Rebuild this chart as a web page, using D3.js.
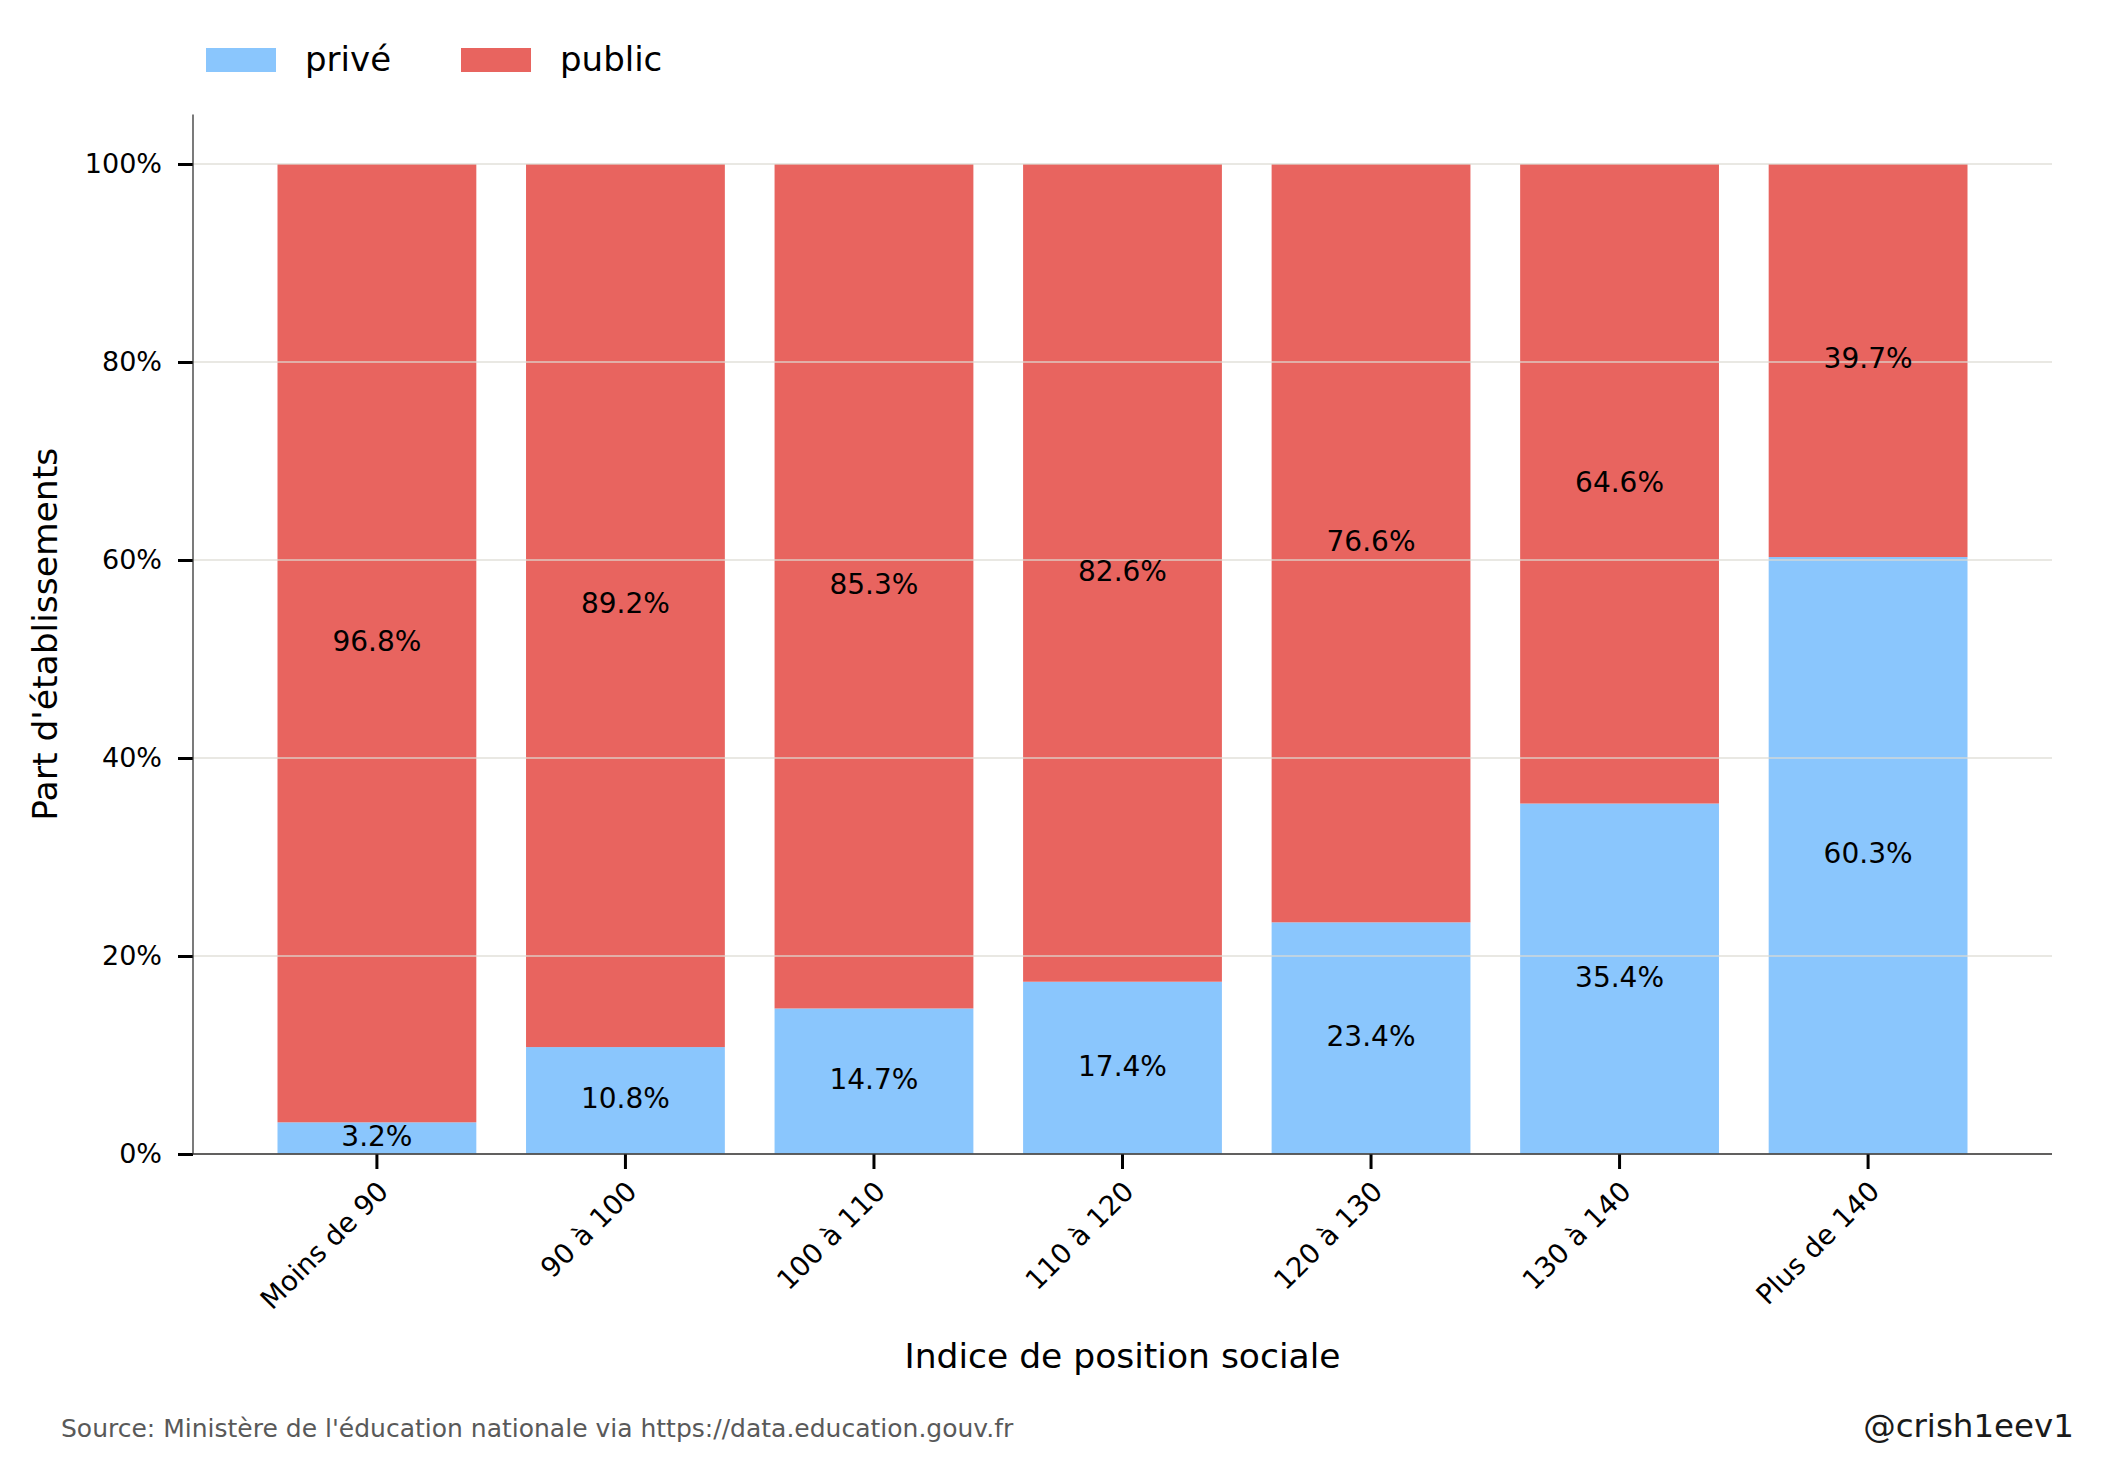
<!DOCTYPE html>
<html>
<head>
<meta charset="utf-8">
<script src="https://cdn.jsdelivr.net/npm/d3@7"></script>
<style>
  body { margin: 0; background: #fff; }
  svg { display: block; font-family: "DejaVu Sans", sans-serif; }
</style>
</head>
<body>
<div id="chart"></div>
<script>
// données
var categories = ["Moins de 90", "90 à 100", "100 à 110", "110 à 120", "120 à 130", "130 à 140", "Plus de 140"];
var prive = [3.2, 10.8, 14.7, 17.4, 23.4, 35.4, 60.3];
var publicVals = [96.8, 89.2, 85.3, 82.6, 76.6, 64.6, 39.7];
var yTicks = [0, 20, 40, 60, 80, 100];
var seriesNames = ["privé", "public"];
var colors = ["#8ac6fd", "#e8645f"];

var W = 2106, H = 1474;
var plotLeft = 193, plotRight = 2052, plotTop = 114.5, plotBottom = 1154;

var svg = d3.select("#chart").append("svg")
  .attr("width", W)
  .attr("height", H);

var x = d3.scaleBand()
  .domain(categories)
  .range([plotLeft, plotRight])
  .paddingInner(0.2)
  .paddingOuter(0.34);

var y = d3.scaleLinear().domain([0, 105]).range([plotBottom, plotTop]);

// empilement
var rows = categories.map(function(c, i) {
  return { cat: c, "privé": prive[i], "public": publicVals[i] };
});
var stack = d3.stack().keys(seriesNames)(rows);

var layers = svg.append("g").selectAll("g")
  .data(stack)
  .enter().append("g")
  .attr("fill", function(d, i) { return colors[i]; });

layers.selectAll("rect")
  .data(function(d) { return d; })
  .enter().append("rect")
  .attr("x", function(d) { return x(d.data.cat); })
  .attr("width", x.bandwidth())
  .attr("y", function(d) { return y(d[1]); })
  .attr("height", function(d) { return y(d[0]) - y(d[1]); });

// grille par-dessus les barres
svg.append("g").selectAll("line")
  .data(yTicks)
  .enter().append("line")
  .attr("x1", plotLeft).attr("x2", plotRight)
  .attr("y1", function(d) { return y(d); })
  .attr("y2", function(d) { return y(d); })
  .attr("stroke", "#dcdbd2")
  .attr("stroke-opacity", 0.85)
  .attr("stroke-width", 1.4);

// étiquettes des segments
var labels = svg.append("g").selectAll("g")
  .data(stack)
  .enter().append("g");
labels.selectAll("text")
  .data(function(d) { return d; })
  .enter().append("text")
  .attr("x", function(d) { return x(d.data.cat) + x.bandwidth() / 2; })
  .attr("y", function(d) { return y((d[0] + d[1]) / 2); })
  .attr("dy", "0.28em")
  .attr("text-anchor", "middle")
  .attr("fill", "#000")
  .style("font-size", "28px")
  .text(function(d) { return (d[1] - d[0]).toFixed(1) + "%"; });

// axe Y
var yAxis = d3.axisLeft(y)
  .tickValues(yTicks)
  .tickFormat(function(d) { return d + "%"; })
  .tickSize(15)
  .tickPadding(16);

var gy = svg.append("g")
  .attr("transform", "translate(" + plotLeft + ",0)")
  .call(yAxis);
gy.select(".domain").remove();
gy.selectAll(".tick line").attr("stroke", "#000").attr("stroke-width", 3);
gy.selectAll(".tick text").style("font-size", "27px").attr("fill", "#000")
  .style("font-family", "DejaVu Sans");

svg.append("line")
  .attr("x1", plotLeft).attr("x2", plotLeft)
  .attr("y1", plotTop).attr("y2", plotBottom)
  .attr("stroke", "#333").attr("stroke-width", 1.3);

// axe X
var xAxis = d3.axisBottom(x).tickSize(15).tickSizeOuter(0);
var gx = svg.append("g")
  .attr("transform", "translate(0," + plotBottom + ")")
  .call(xAxis);
gx.select(".domain").remove();
gx.selectAll(".tick line").attr("stroke", "#000").attr("stroke-width", 3);
gx.selectAll(".tick text")
  .style("font-size", "27.5px")
  .style("font-family", "DejaVu Sans")
  .attr("fill", "#000")
  .attr("text-anchor", "end")
  .attr("dy", null)
  .attr("y", null)
  .attr("transform", "translate(13,39) rotate(-45)");

svg.append("line")
  .attr("x1", plotLeft).attr("x2", plotRight)
  .attr("y1", plotBottom).attr("y2", plotBottom)
  .attr("stroke", "#333").attr("stroke-width", 1.5);

// titres des axes
svg.append("text")
  .attr("x", (plotLeft + plotRight) / 2)
  .attr("y", 1368)
  .attr("text-anchor", "middle")
  .style("font-size", "34.5px")
  .text("Indice de position sociale");

svg.append("text")
  .attr("transform", "translate(57," + (plotTop + plotBottom) / 2 + ") rotate(-90)")
  .attr("text-anchor", "middle")
  .style("font-size", "34.5px")
  .text("Part d'établissements");

// légende
var leg = svg.append("g").selectAll("g")
  .data(seriesNames)
  .enter().append("g")
  .attr("transform", function(d, i) { return "translate(" + (206 + i * 255) + ",0)"; });
leg.append("rect")
  .attr("x", 0).attr("y", 48)
  .attr("width", 70).attr("height", 24)
  .attr("fill", function(d, i) { return colors[i]; });
leg.append("text")
  .attr("x", 99).attr("y", 71)
  .style("font-size", "34px")
  .text(function(d) { return d; });

// source et signature
svg.append("text")
  .attr("x", 61).attr("y", 1437)
  .attr("fill", "#595959")
  .style("font-size", "25px")
  .text("Source: Ministère de l'éducation nationale via https://data.education.gouv.fr");

svg.append("text")
  .attr("x", 2074).attr("y", 1437)
  .attr("text-anchor", "end")
  .attr("fill", "#1a1a1a")
  .style("font-size", "32.5px")
  .text("@crish1eev1");
</script>
</body>
</html>
